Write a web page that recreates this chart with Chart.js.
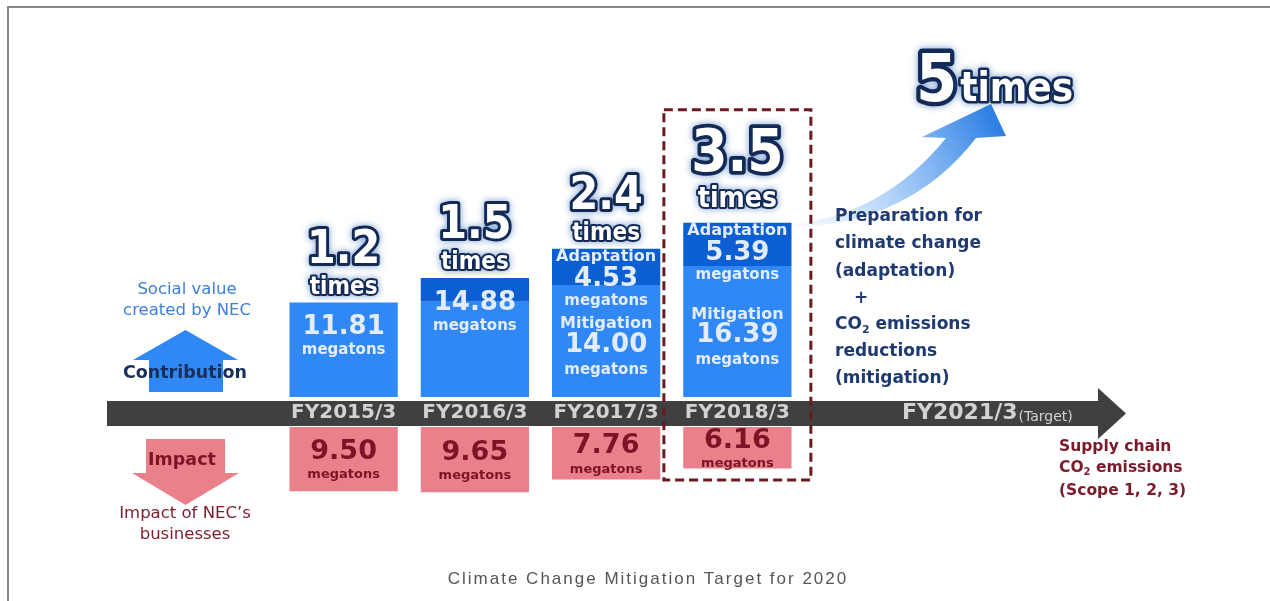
<!DOCTYPE html>
<html>
<head>
<meta charset="utf-8">
<title>Climate Change Mitigation Target for 2020</title>
<script src="https://cdn.jsdelivr.net/npm/chart.js@4.4.0/dist/chart.umd.min.js"></script>
<style>
    html, body { margin: 0; padding: 0; background: #fff; }
    #wrap { position: relative; width: 1270px; height: 601px; }
    #frame {
        position: absolute; left: 7px; top: 6px; right: 0; bottom: 0;
        border-top: 2px solid #868686; border-left: 2px solid #868686;
        pointer-events: none;
    }
</style>
</head>
<body>
<div id="wrap">
    <canvas id="myChart"></canvas>
    <div id="frame"></div>
</div>
<script>
// DATA (megatons of CO2)

const years = ['FY2015/3', 'FY2016/3', 'FY2017/3', 'FY2018/3'];
const mitigation = [11.81, 11.90, 14.00, 16.39];
const adaptation = [0, 2.98, 4.53, 5.39];
const impact = [9.50, 9.65, 7.76, 6.16];
const multiples = ['1.2', '1.5', '2.4', '3.5'];
const showBreakdown = [false, false, true, true];
const targetYear = 'FY2021/3';
const targetMultiple = '5';

// LAYOUT

const W = 1270, H = 601;
const AREA_TOP = 40, AREA_BOTTOM = 560;
const UP_ZERO = 397, DOWN_ZERO = 427;   // rows where contribution / impact bars start
const UP_PX = 8, DOWN_PX = 6.75;        // pixels per megaton

const areaH = AREA_BOTTOM - AREA_TOP;
const upMin = -(AREA_BOTTOM - UP_ZERO) / UP_PX;
const upMax = upMin + areaH / UP_PX;
const downMin = -(DOWN_ZERO - AREA_TOP) / DOWN_PX;
const downMax = downMin + areaH / DOWN_PX;

const BOLD = '"DejaVu Sans", Verdana, sans-serif';
const HEAVY = '"DejaVu Sans Condensed", "DejaVu Sans", sans-serif';

function txt(ctx, s, x, y, font, color, align) {
    ctx.font = font;
    ctx.fillStyle = color;
    ctx.textAlign = align || 'center';
    ctx.textBaseline = 'middle';
    ctx.fillText(s, x, y);
}

// white text with navy outline ("1.2 times" etc.)
function outlined(ctx, s, x, y, size, align) {
    ctx.save();
    ctx.font = 'bold ' + size + 'px ' + HEAVY;
    ctx.textAlign = align || 'center';
    ctx.textBaseline = 'alphabetic';
    ctx.lineJoin = 'round';
    ctx.shadowColor = 'rgba(70,120,190,0.75)';
    ctx.shadowBlur = 7;
    ctx.strokeStyle = '#132a56';
    ctx.lineWidth = Math.max(4, size * 0.13);
    ctx.strokeText(s, x, y);
    ctx.shadowBlur = 0;
    ctx.fillStyle = '#ffffff';
    ctx.fillText(s, x, y);
    ctx.restore();
}

// "CO2" with a subscript, then the rest of the line
function co2(ctx, x, y, rest, size, color) {
    ctx.fillStyle = color;
    ctx.textAlign = 'left';
    ctx.textBaseline = 'middle';
    ctx.font = 'bold ' + size + 'px ' + BOLD;
    ctx.fillText('CO', x, y);
    let w = ctx.measureText('CO').width;
    ctx.font = 'bold ' + Math.round(size * 0.65) + 'px ' + BOLD;
    ctx.fillText('2', x + w, y + size * 0.3);
    w += ctx.measureText('2').width;
    ctx.font = 'bold ' + size + 'px ' + BOLD;
    ctx.fillText(rest, x + w, y);
}

const decorations = {
    id: 'decorations',
    beforeDatasetsDraw(chart) {
        const ctx = chart.ctx;
        ctx.save();
        // timeline arrow
        ctx.fillStyle = '#404040';
        ctx.fillRect(107, 401, 992, 25);
        ctx.beginPath();
        ctx.moveTo(1098, 388);
        ctx.lineTo(1126, 413.5);
        ctx.lineTo(1098, 439);
        ctx.closePath();
        ctx.fill();

        // contribution arrow (up)
        ctx.fillStyle = '#2f88f5';
        ctx.beginPath();
        ctx.moveTo(185.5, 330);
        ctx.lineTo(238, 360);
        ctx.lineTo(223, 360);
        ctx.lineTo(223, 392);
        ctx.lineTo(149, 392);
        ctx.lineTo(149, 360);
        ctx.lineTo(133, 360);
        ctx.closePath();
        ctx.fill();

        // impact arrow (down)
        ctx.fillStyle = '#ea818a';
        ctx.beginPath();
        ctx.moveTo(146, 439);
        ctx.lineTo(225, 439);
        ctx.lineTo(225, 473);
        ctx.lineTo(239, 473);
        ctx.lineTo(185.5, 505);
        ctx.lineTo(132, 473);
        ctx.lineTo(146, 473);
        ctx.closePath();
        ctx.fill();
        ctx.restore();
    },
    afterDatasetsDraw(chart) {
        const ctx = chart.ctx;
        const x = chart.scales.x;
        const mit = chart.getDatasetMeta(0).data;
        const ada = chart.getDatasetMeta(1).data;
        const imp = chart.getDatasetMeta(2).data;
        const light = '#e3ecfa';
        const wine = '#7a1426';
        ctx.save();

        // year labels on the timeline
        years.forEach(function (y, i) {
            txt(ctx, y, x.getPixelForValue(i), 413, 'bold 20px ' + BOLD, '#d2d2d2');
        });
        txt(ctx, targetYear, 902, 413, 'bold 22px ' + BOLD, '#d2d2d2', 'left');
        ctx.font = 'bold 22px ' + BOLD;
        const tw = ctx.measureText(targetYear).width;
        txt(ctx, '(Target)', 902 + tw + 1, 417, '14px ' + BOLD, '#d2d2d2', 'left');

        // left side captions
        txt(ctx, 'Social value', 187, 290, '16.5px ' + BOLD, '#3b7fd8');
        txt(ctx, 'created by NEC', 187, 311, '16.5px ' + BOLD, '#3b7fd8');
        txt(ctx, 'Contribution', 185, 373, 'bold 17.5px ' + BOLD, '#1a2e5a');
        txt(ctx, 'Impact', 182, 460, 'bold 17.5px ' + BOLD, '#7a1426');
        txt(ctx, 'Impact of NEC\u2019s', 185, 514, '16.5px ' + BOLD, '#7b1c2c');
        txt(ctx, 'businesses', 185, 535, '16.5px ' + BOLD, '#7b1c2c');

        // labels inside the bars
        years.forEach(function (y, i) {
            const cx = mit[i].x;
            const top = ada[i].y;
            if (showBreakdown[i]) {
                txt(ctx, 'Adaptation', cx, top + 8, 'bold 16px ' + BOLD, light);
                txt(ctx, adaptation[i].toFixed(2), cx, top + 30, 'bold 26px ' + BOLD, light);
                txt(ctx, 'megatons', cx, top + 52, 'bold 15px ' + BOLD, light);
                const mid = (mit[i].y + mit[i].base) / 2;
                txt(ctx, 'Mitigation', cx, mid - 17, 'bold 16px ' + BOLD, light);
                txt(ctx, mitigation[i].toFixed(2), cx, mid + 4, 'bold 26px ' + BOLD, light);
                txt(ctx, 'megatons', cx, mid + 29, 'bold 15px ' + BOLD, light);
            } else {
                const total = mitigation[i] + adaptation[i];
                txt(ctx, total.toFixed(2), cx, top + 25, 'bold 26px ' + BOLD, light);
                txt(ctx, 'megatons', cx, top + 48, 'bold 15px ' + BOLD, light);
            }
            const c = (imp[i].y + imp[i].base) / 2;
            txt(ctx, impact[i].toFixed(2), cx, c - 7, 'bold 27px ' + BOLD, wine);
            txt(ctx, 'megatons', cx, c + 16, 'bold 13px ' + BOLD, wine);

            // "x.x times" above each bar
            const big = i === years.length - 1;
            outlined(ctx, multiples[i], cx, top - (big ? 52 : 40), big ? 58 : 46);
            outlined(ctx, 'times', cx, top - (big ? 16 : 9), big ? 28 : 24);
        });

        // curved arrow towards the target
        const last = years.length - 1;
        const tx = mit[last].x + mit[last].width / 2;
        const ty = ada[last].y + 3;
        const grad = ctx.createLinearGradient(tx, ty, 990, 115);
        grad.addColorStop(0, 'rgba(150,200,245,0.05)');
        grad.addColorStop(0.5, 'rgba(90,160,240,0.55)');
        grad.addColorStop(1, '#2f80e4');
        ctx.fillStyle = grad;
        ctx.beginPath();
        ctx.moveTo(tx, ty + 2);
        ctx.quadraticCurveTo(910, ty - 2, 976, 138);
        ctx.lineTo(1006, 136);
        ctx.lineTo(991, 104);
        ctx.lineTo(922, 137);
        ctx.lineTo(946, 138);
        ctx.quadraticCurveTo(885, ty - 12, tx, ty - 1);
        ctx.closePath();
        ctx.fill();

        // target multiple
        outlined(ctx, targetMultiple, 916, 101, 66, 'left');
        ctx.font = 'bold 66px ' + HEAVY;
        const fw = ctx.measureText(targetMultiple).width;
        outlined(ctx, 'times', 916 + fw + 3, 101, 40, 'left');

        // dashed frame around the latest year
        const bx = mit[last].x;
        ctx.strokeStyle = '#6b1a22';
        ctx.lineWidth = 3;
        ctx.setLineDash([9, 5]);
        ctx.strokeRect(bx - 73.5, ada[last].y - 113, 147, 480 - (ada[last].y - 113));
        ctx.setLineDash([]);

        // right side notes
        const navy = '#1e3a70';
        const f17 = 'bold 17px ' + BOLD;
        txt(ctx, 'Preparation for', 835, 217, f17, navy, 'left');
        txt(ctx, 'climate change', 835, 244, f17, navy, 'left');
        txt(ctx, '(adaptation)', 835, 272, f17, navy, 'left');
        txt(ctx, '+', 861, 299, f17, navy);
        co2(ctx, 835, 325, ' emissions', 17, navy);
        txt(ctx, 'reductions', 835, 352, f17, navy, 'left');
        txt(ctx, '(mitigation)', 835, 379, f17, navy, 'left');

        const f15 = 'bold 15.5px ' + BOLD;
        txt(ctx, 'Supply chain', 1059, 447, f15, '#7a1a2a', 'left');
        co2(ctx, 1059, 468, ' emissions', 15.5, '#7a1a2a');
        txt(ctx, '(Scope 1, 2, 3)', 1059, 491, f15, '#7a1a2a', 'left');

        // caption
        ctx.letterSpacing = '2px';
        txt(ctx, 'Climate Change Mitigation Target for 2020', 648, 579,
            '17px "Liberation Sans", Arial, sans-serif', '#555555');
        ctx.letterSpacing = '0px';
        ctx.restore();
    }
};

var config = {
    type: 'bar',
    data: {
        labels: years,
        datasets: [{
            label: 'Mitigation',
            data: mitigation,
            yAxisID: 'y',
            stack: 'up',
            backgroundColor: '#2f88f5'
        }, {
            label: 'Adaptation',
            data: adaptation,
            yAxisID: 'y',
            stack: 'up',
            backgroundColor: '#0c5fd2'
        }, {
            label: 'Impact',
            data: impact,
            yAxisID: 'y2',
            stack: 'down',
            backgroundColor: '#ea818a'
        }]
    },
    options: {
        responsive: true,
        maintainAspectRatio: false,
        animation: false,
        layout: {
            padding: { left: 278, right: 467, top: AREA_TOP, bottom: H - AREA_BOTTOM }
        },
        datasets: {
            bar: { grouped: false, barPercentage: 0.825, categoryPercentage: 1, borderWidth: 0 }
        },
        plugins: {
            legend: { display: false },
            tooltip: { enabled: false },
            title: { display: false }
        },
        scales: {
            x: { display: false, offset: true },
            y: { display: false, stacked: true, min: upMin, max: upMax },
            y2: { display: false, reverse: true, min: downMin, max: downMax }
        }
    },
    plugins: [decorations]
};

var myChart = new Chart(document.getElementById('myChart'), config);
</script>
</body>
</html>
